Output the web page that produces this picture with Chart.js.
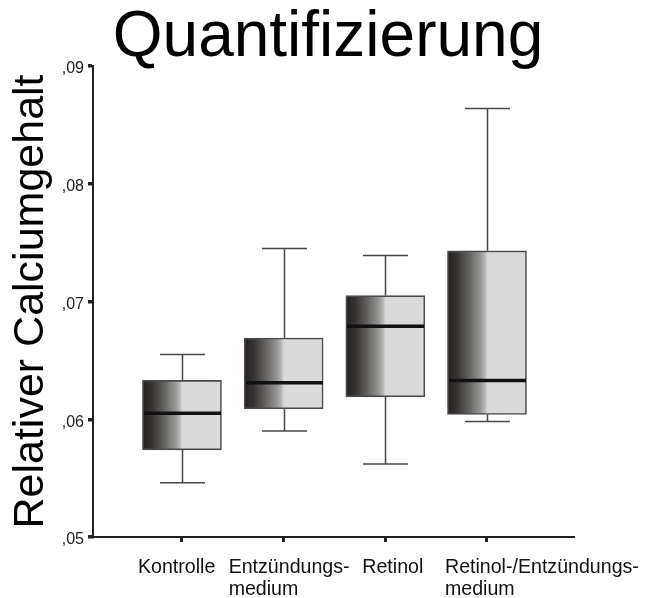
<!DOCTYPE html>
<html lang="de">
<head>
<meta charset="utf-8">
<title>Quantifizierung</title>
<script src="https://cdn.jsdelivr.net/npm/chart.js@4/dist/chart.umd.min.js"></script>
<style>
  html, body { margin: 0; padding: 0; background: #fff; }
  #marco { width: 648px; height: 598px; position: relative; }
</style>
</head>
<body>
<div id="marco"><canvas id="grafico"></canvas></div>
<script>
// Datos del boxplot
const categorias = ['Kontrolle', ['Entzündungs-', 'medium'], 'Retinol', ['Retinol-/Entzündungs-', 'medium']];
const bigoteBajo = [0.0546, 0.0590, 0.0562, 0.0598];
const cuartil1 = [0.0574, 0.0609, 0.0619, 0.0604];
const mediana = [0.0605, 0.0631, 0.0679, 0.0633];
const cuartil3 = [0.0633, 0.0669, 0.0705, 0.0743];
const bigoteAlto = [0.0655, 0.0745, 0.0739, 0.0864];
const ticksY = [0.05, 0.06, 0.07, 0.08, 0.09];

const ANCHO_CAJA = 79;
const ANCHO_TOPE = 45;
const FUENTE = "'Liberation Sans', Arial, Helvetica, sans-serif";

// desplazamiento de cada etiqueta respecto a su marca (como en el original)
const desplazEtiqueta = [-44, -55, -23, -42];

Chart.defaults.font.family = FUENTE;
Chart.defaults.color = '#000';

// Relleno degradado de cada caja (oscuro a la izquierda, gris claro a la derecha)
function rellenoCaja(ctx) {
    const chart = ctx.chart;
    const escalaX = chart.scales.x;
    if (ctx.type !== 'data' || !chart.chartArea || !escalaX) return '#d9d9d9';
    const centro = escalaX.getPixelForValue(ctx.parsed.x);
    const izq = centro - ANCHO_CAJA / 2;
    const g = chart.ctx.createLinearGradient(izq, 0, izq + ANCHO_CAJA, 0);
    g.addColorStop(0, '#262221');
    g.addColorStop(0.12, '#363231');
    g.addColorStop(0.27, '#636160');
    g.addColorStop(0.42, '#979796');
    g.addColorStop(0.48, '#bdbdbc');
    g.addColorStop(0.5, '#d9d9d9');
    g.addColorStop(1, '#dadada');
    return g;
}

// Bigotes y medianas
const pluginBigotes = {
    id: 'bigotes',
    afterDatasetsDraw(chart) {
        const ctx = chart.ctx;
        const x = chart.scales.x;
        const y = chart.scales.y;
        ctx.save();
        categorias.forEach((_, i) => {
            const cx = Math.round(x.getPixelForValue(i)) + 0.5;
            const yBajo = y.getPixelForValue(bigoteBajo[i]);
            const yAlto = y.getPixelForValue(bigoteAlto[i]);
            const yQ1 = y.getPixelForValue(cuartil1[i]);
            const yQ3 = y.getPixelForValue(cuartil3[i]);
            const yMed = y.getPixelForValue(mediana[i]);

            ctx.strokeStyle = '#474747';
            ctx.lineWidth = 1.5;
            ctx.beginPath();
            ctx.moveTo(cx, yAlto);
            ctx.lineTo(cx, yQ3);
            ctx.moveTo(cx, yQ1);
            ctx.lineTo(cx, yBajo);
            ctx.moveTo(cx - ANCHO_TOPE / 2, yAlto);
            ctx.lineTo(cx + ANCHO_TOPE / 2, yAlto);
            ctx.moveTo(cx - ANCHO_TOPE / 2, yBajo);
            ctx.lineTo(cx + ANCHO_TOPE / 2, yBajo);
            ctx.stroke();

            ctx.strokeStyle = '#111';
            ctx.lineWidth = 3.5;
            ctx.beginPath();
            ctx.moveTo(cx - ANCHO_CAJA / 2 + 1, yMed);
            ctx.lineTo(cx + ANCHO_CAJA / 2 - 1, yMed);
            ctx.stroke();
        });
        ctx.restore();
    }
};

// Etiquetas del eje X (alineadas a la izquierda, en una o dos lineas)
const pluginEtiquetas = {
    id: 'etiquetasX',
    afterDraw(chart) {
        const ctx = chart.ctx;
        const x = chart.scales.x;
        const base = chart.chartArea.bottom + 36;
        ctx.save();
        ctx.font = '19.6px ' + FUENTE;
        ctx.fillStyle = '#111';
        ctx.textAlign = 'left';
        ctx.textBaseline = 'alphabetic';
        categorias.forEach((cat, i) => {
            const lineas = Array.isArray(cat) ? cat : [cat];
            const px = x.getPixelForValue(i) + desplazEtiqueta[i];
            lineas.forEach((texto, j) => {
                ctx.fillText(texto, px, base + j * 22);
            });
        });
        ctx.restore();
    }
};

new Chart(document.getElementById('grafico'), {
    type: 'bar',
    data: {
        datasets: [{
            data: categorias.map((_, i) => ({ x: i, y: [cuartil1[i], cuartil3[i]] })),
            backgroundColor: rellenoCaja,
            borderColor: '#4a4a4a',
            borderWidth: 1.6,
            borderSkipped: false,
            barThickness: ANCHO_CAJA
        }]
    },
    options: {
        responsive: true,
        maintainAspectRatio: false,
        animation: false,
        layout: { padding: { left: 8 } },
        plugins: {
            legend: { display: false },
            tooltip: { enabled: false },
            title: {
                display: true,
                text: 'Quantifizierung',
                color: '#000',
                font: { size: 64, weight: 'normal', lineHeight: 1 },
                padding: { top: 6, bottom: -4 }
            }
        },
        scales: {
            x: {
                type: 'linear',
                offset: false,
                min: -0.875,
                max: 3.846,
                afterBuildTicks(s) { s.ticks = categorias.map((_, i) => ({ value: i })); },
                afterFit(s) { s.height = 61; },
                ticks: { display: false },
                grid: { offset: false, drawOnChartArea: false, drawTicks: true, tickLength: 5, lineWidth: 3, color: '#222' },
                border: { display: true, width: 2, color: '#222' }
            },
            y: {
                type: 'linear',
                position: 'left',
                min: 0.05,
                max: 0.09,
                afterBuildTicks(s) { s.ticks = ticksY.map(v => ({ value: v })); },
                afterFit(s) { s.width = 85; },
                ticks: {
                    padding: 4,
                    labelOffset: 3,
                    color: '#222',
                    font: { size: 16 },
                    callback: v => v.toFixed(2).replace('0.', ',')
                },
                grid: { drawOnChartArea: false, drawTicks: true, tickLength: 5, lineWidth: 3.5, color: '#222' },
                border: { display: true, width: 2, color: '#222' },
                title: {
                    display: true,
                    text: 'Relativer Calciumgehalt',
                    color: '#000',
                    font: { size: 43, lineHeight: 1 },
                    padding: { top: 1.5, bottom: 0 }
                }
            },
            derecha: {
                type: 'linear',
                position: 'right',
                afterFit(s) { s.width = 75; },
                ticks: { display: false },
                grid: { display: false },
                border: { display: false }
            }
        }
    },
    plugins: [pluginBigotes, pluginEtiquetas]
});
</script>
</body>
</html>
